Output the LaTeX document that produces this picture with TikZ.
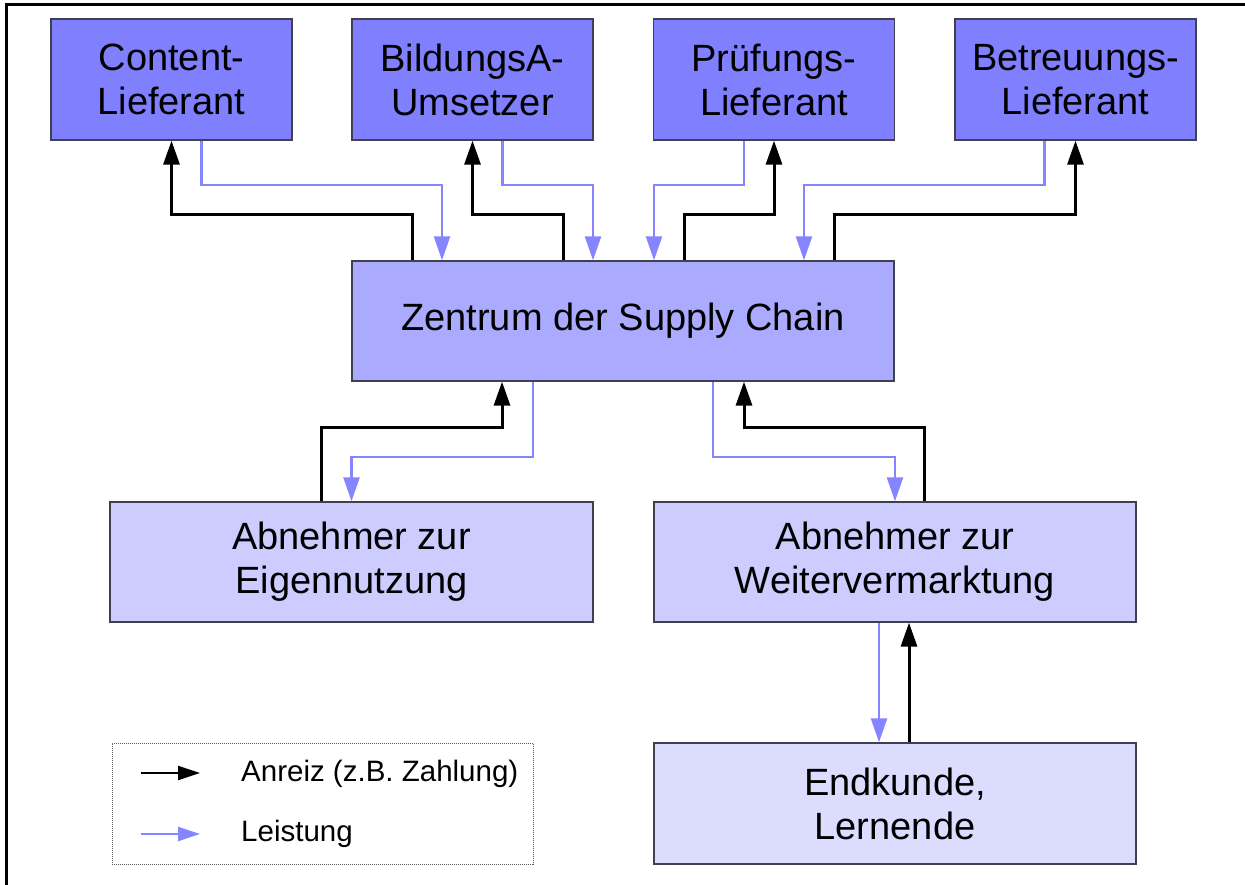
\documentclass[tikz,border=0pt]{standalone}
\usepackage{fontspec}
\setmainfont{Liberation Sans}
\usetikzlibrary{arrows.meta,calc}
\definecolor{topfill}{HTML}{8080FF}
\definecolor{midfill}{HTML}{AAAAFF}
\definecolor{lowfill}{HTML}{CCCCFF}
\definecolor{endfill}{HTML}{DCDCFF}
\definecolor{leist}{HTML}{8585FF}
\definecolor{boxline}{HTML}{404050}
\begin{document}
\begin{tikzpicture}[x=1pt,y=-1pt,
  box/.style={draw=boxline, line width=1.3pt, rectangle, inner sep=0pt, align=center,
    font=\fontsize{38}{44}\selectfont},
  topbox/.style={box, fill=topfill, minimum width=241pt, minimum height=121pt},
  anreiz/.style={draw=black, line width=3pt, -{Triangle[length=24pt,width=16pt]}},
  leistung/.style={draw=leist, line width=2.4pt, -{Triangle[length=24pt,width=16pt]}},
  legtext/.style={anchor=west, inner sep=0pt, font=\fontsize{29.5}{34}\selectfont},
]
\useasboundingbox (0,0) rectangle (1245,885);
% frame
\draw[line width=3pt] (6.5,885) -- (6.5,4.5) -- (1245,4.5);

% boxes
\node[topbox] (content) at (171.5,79.5) {Content-\\Lieferant};
\node[topbox] (bildung) at (472.5,79.5) {BildungsA-\\Umsetzer};
\node[topbox] (pruef)   at (774,79.5)   {Prüfungs-\\Lieferant};
\node[topbox] (betr)    at (1075.5,79.5) {Betreuungs-\\Lieferant};
\node[box, fill=midfill, minimum width=542pt, minimum height=120pt] (zentrum) at (623,321) {Zentrum der Supply Chain};
\node[box, fill=lowfill, minimum width=483pt, minimum height=120pt] (eigen) at (351.5,562) {Abnehmer zur\\Eigennutzung};
\node[box, fill=lowfill, minimum width=482pt, minimum height=120pt] (weiter) at (895,562) {Abnehmer zur\\Weitervermarktung};
\node[box, fill=endfill, minimum width=482pt, minimum height=121pt] (endk) at (895,803.5) {Endkunde,\\Lernende};

% levels
\coordinate (lvTopBlue) at (0,185);
\coordinate (lvTopBlack) at (0,215);
\coordinate (lvLowBlack) at (0,427);
\coordinate (lvLowBlue) at (0,457);

% anchor points on zentrum top
\coordinate (z1) at ([xshift=-211pt]zentrum.north);
\coordinate (z2) at ([xshift=-181pt]zentrum.north);
\coordinate (z3) at ([xshift=-60pt]zentrum.north);
\coordinate (z4) at ([xshift=-30pt]zentrum.north);
\coordinate (z5) at ([xshift=31pt]zentrum.north);
\coordinate (z6) at ([xshift=61pt]zentrum.north);
\coordinate (z7) at ([xshift=181pt]zentrum.north);
\coordinate (z8) at ([xshift=211pt]zentrum.north);
% points on top boxes
\coordinate (cL) at ([xshift=30pt]content.south);
\coordinate (bL) at ([xshift=30pt]bildung.south);
\coordinate (pL) at ([xshift=-30pt]pruef.south);
\coordinate (tL) at ([xshift=-31pt]betr.south);

% top connectors
\draw[anreiz] (z1) -- (z1 |- lvTopBlack) -| (content.south);
\draw[leistung] (cL) -- (cL |- lvTopBlue) -| (z2);
\draw[anreiz] (z3) -- (z3 |- lvTopBlack) -| (bildung.south);
\draw[leistung] (bL) -- (bL |- lvTopBlue) -| (z4);
\draw[leistung] (pL) -- (pL |- lvTopBlue) -| (z5);
\draw[anreiz] (z6) -- (z6 |- lvTopBlack) -| (pruef.south);
\draw[leistung] (tL) -- (tL |- lvTopBlue) -| (z7);
\draw[anreiz] (z8) -- (z8 |- lvTopBlack) -| (betr.south);

% zentrum bottom points
\coordinate (zb1) at ([xshift=-121pt]zentrum.south);
\coordinate (zb2) at ([xshift=-90pt]zentrum.south);
\coordinate (zb3) at ([xshift=90pt]zentrum.south);
\coordinate (zb4) at ([xshift=121pt]zentrum.south);
\coordinate (eB) at ([xshift=-30pt]eigen.north);
\coordinate (wB) at ([xshift=29pt]weiter.north);

\draw[anreiz] (eB) -- (eB |- lvLowBlack) -| (zb1);
\draw[leistung] (zb2) -- (zb2 |- lvLowBlue) -| (eigen.north);
\draw[leistung] (zb3) -- (zb3 |- lvLowBlue) -| (weiter.north);
\draw[anreiz] (wB) -- (wB |- lvLowBlack) -| (zb4);

% weiter <-> endkunde
\coordinate (wL) at ([xshift=-16pt]weiter.south);
\coordinate (eK) at ([xshift=14pt]endk.north);
\draw[leistung] (wL) -- (wL |- endk.north);
\draw[anreiz] (eK) -- (eK |- weiter.south);

% legend
\node[draw=gray!70!black, densely dotted, line width=1pt, minimum width=421pt, minimum height=121pt, inner sep=0pt] (legend) at (322.5,803.5) {};
\coordinate (la1) at (141,773);
\coordinate (la2) at (200,773);
\coordinate (lb1) at (141,834);
\coordinate (lb2) at (200,834);
\draw[anreiz, line width=2.4pt, -{Triangle[length=22pt,width=14pt]}] (la1) -- (la2);
\draw[leistung, line width=2.4pt, -{Triangle[length=22pt,width=14pt]}] (lb1) -- (lb2);
\node[legtext] (t1) at (241,774) {Anreiz (z.B. Zahlung)};
\node[legtext] (t2) at (241,834) {Leistung};
\end{tikzpicture}
\end{document}
